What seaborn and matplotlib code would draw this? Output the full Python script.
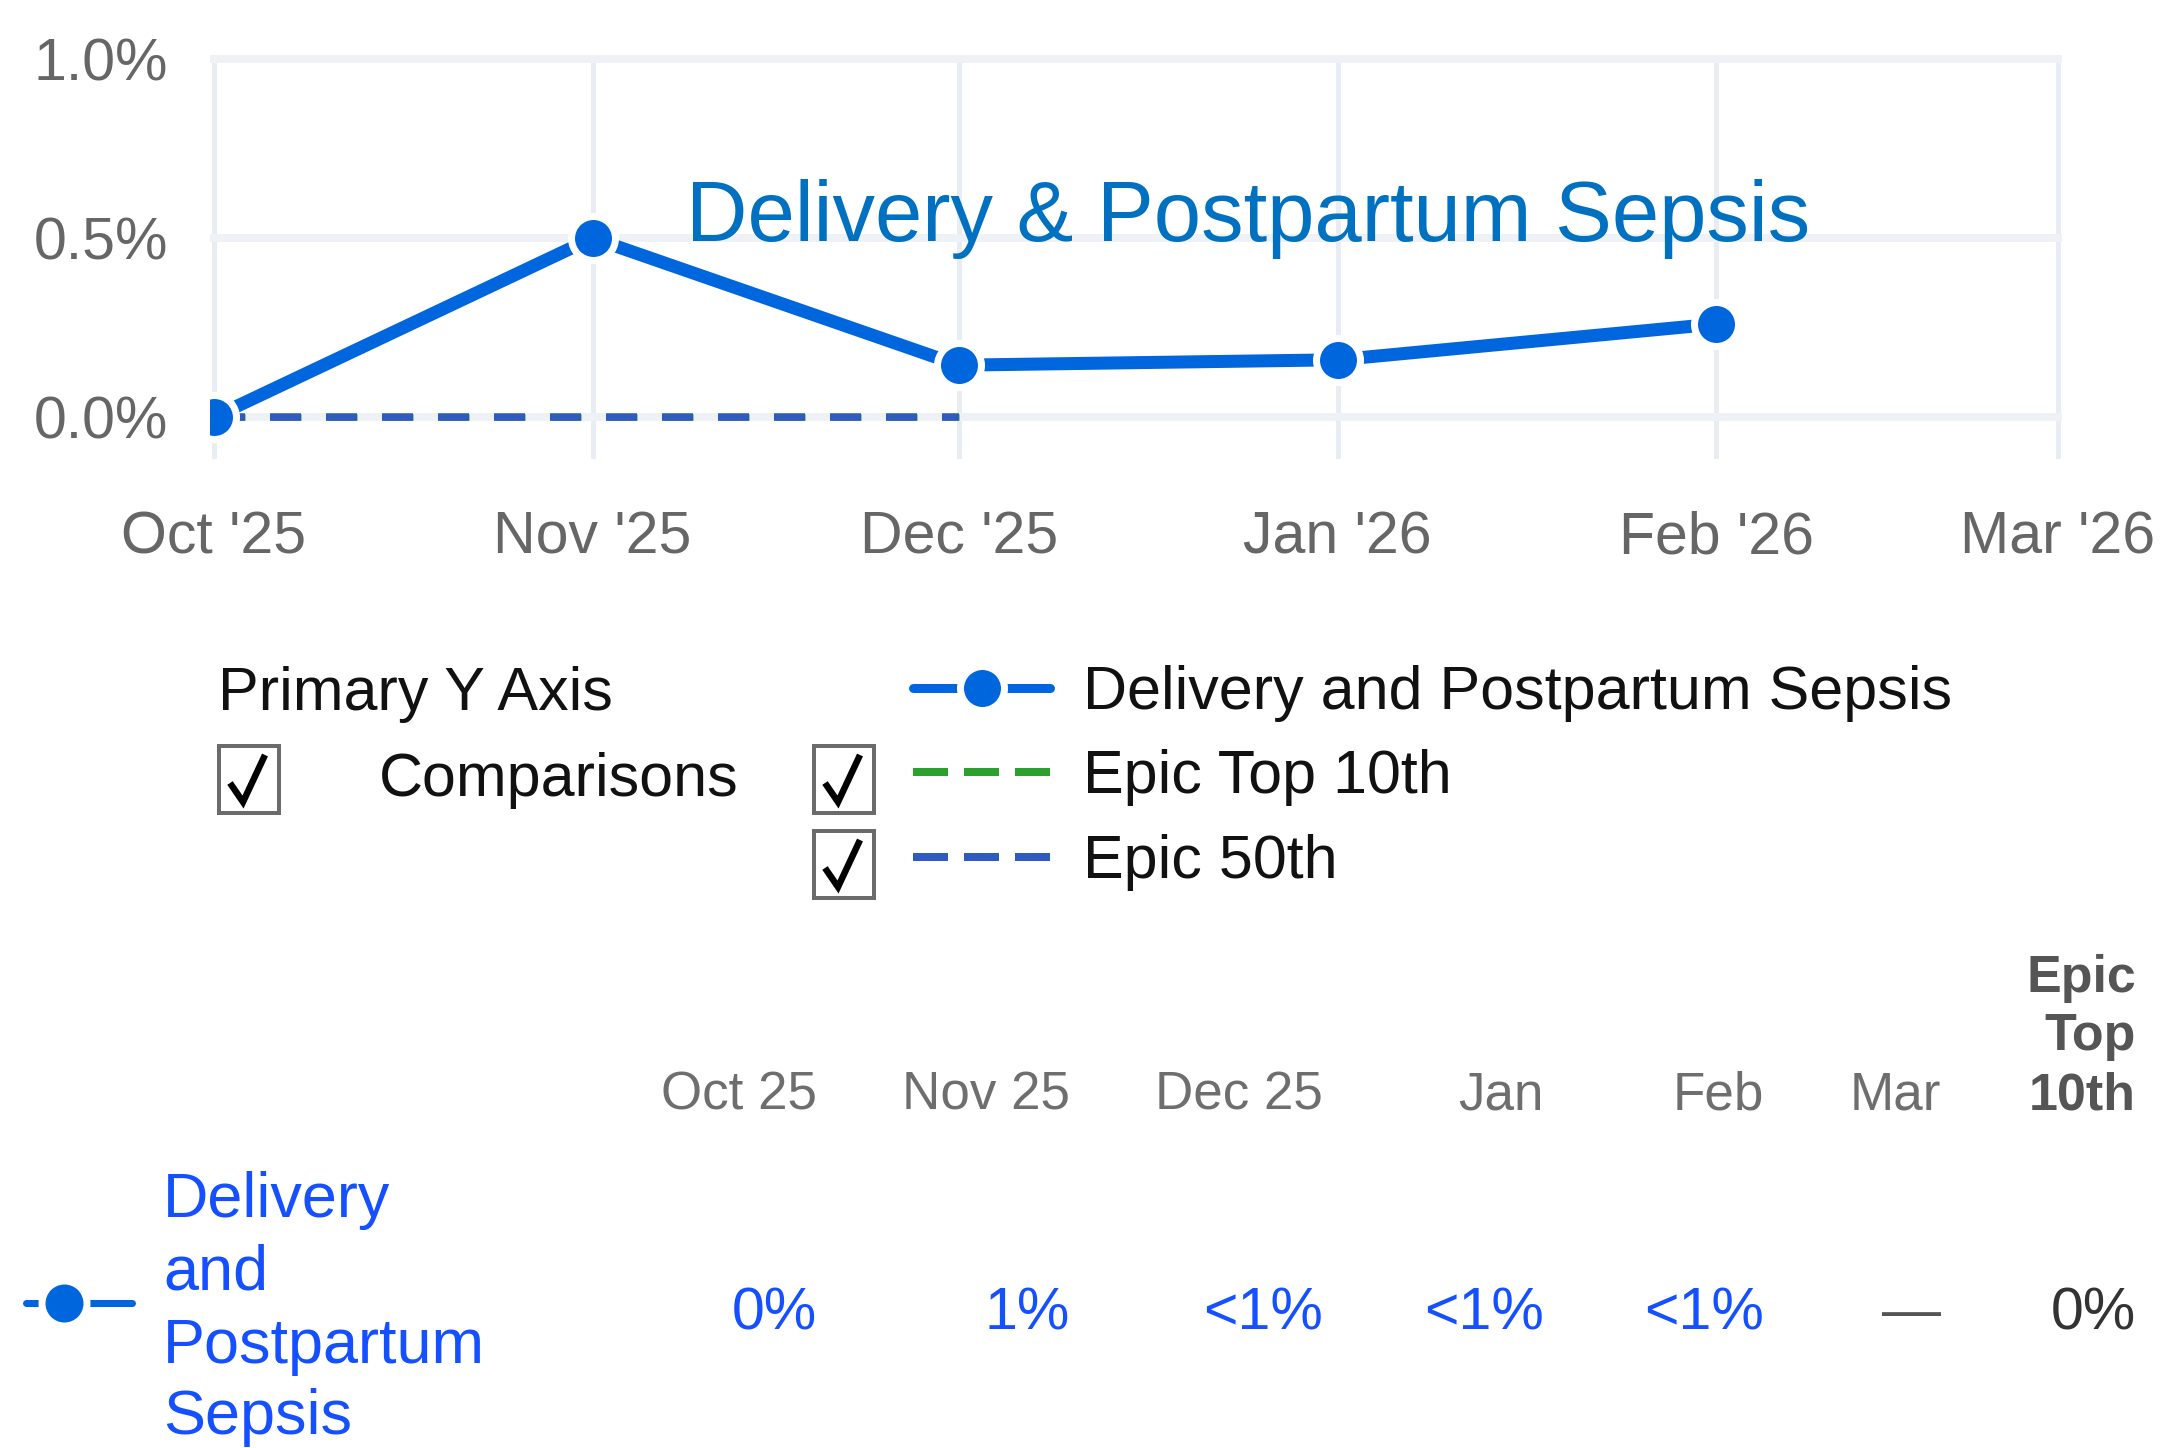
import matplotlib
matplotlib.use("Agg")
import matplotlib.pyplot as plt
from matplotlib.lines import Line2D
from matplotlib.patches import Rectangle
from matplotlib.transforms import Affine2D
import seaborn as sns
import pandas as pd

# --- data -------------------------------------------------------------
months = pd.to_datetime(["2025-10-01", "2025-11-01", "2025-12-01", "2026-01-01", "2026-02-01"])
sepsis_rate = [0.0, 0.50, 0.145, 0.16, 0.26]          # % of deliveries
epic_months = months[:3]
epic_50th = [0.0, 0.0, 0.0]
epic_top10 = [0.0, 0.0, 0.0]

tick_dates = pd.to_datetime(["2025-10-01", "2025-11-01", "2025-12-01",
                             "2026-01-01", "2026-02-01", "2026-03-01"])
tick_labels = ["Oct '25", "Nov '25", "Dec '25", "Jan '26", "Feb '26", "Mar '26"]
y_ticks = [0.0, 0.5, 1.0]
y_labels = ["0.0%", "0.5%", "1.0%"]

table_cols = ["Oct 25", "Nov 25", "Dec 25", "Jan", "Feb", "Mar"]
table_vals = ["0%", "1%", "<1%", "<1%", "<1%", "\u2014"]
top10_head = ["Epic", "Top", "10th"]
top10_val = "0%"

series_name = "Delivery and Postpartum Sepsis"
legend_names = [series_name, "Epic Top 10th", "Epic 50th"]

# --- style ------------------------------------------------------------
BLUE = "#0066dd"
GREEN = "#2ca02c"
DBLUE = "#2e5bbd"
TBLUE = "#1450ff"
LEG_FS = 61

sns.set_style("white")
plt.rcParams["font.family"] = ["Liberation Sans", "DejaVu Sans"]

W, H, DPI = 2163, 1448, 72
fig = plt.figure(figsize=(W / DPI, H / DPI), dpi=DPI)
# pixel coords of the reference (origin top-left)
px = Affine2D().scale(1 / W, -1 / H).translate(0, 1) + fig.transFigure

ax_l, ax_r, ax_t, ax_b = 209.7, 2062.3, 54.7, 459
ax = fig.add_axes([ax_l / W, 1 - ax_b / H, (ax_r - ax_l) / W, (ax_b - ax_t) / H])

sns.lineplot(x=epic_months, y=epic_top10, ax=ax, color=GREEN, linewidth=6.5,
             linestyle=(0, (31 / 6.5, 25 / 6.5)), errorbar=None, legend=False, zorder=2)
sns.lineplot(x=epic_months, y=epic_50th, ax=ax, color=DBLUE, linewidth=7.5,
             linestyle=(0, (31 / 7.5, 25 / 7.5)), errorbar=None, legend=False, zorder=3)
sns.lineplot(x=months, y=sepsis_rate, ax=ax, color=BLUE, linewidth=13,
             marker="o", markersize=44, markeredgecolor="white", markeredgewidth=7,
             errorbar=None, legend=False, zorder=4)

ax.set_xlim(tick_dates[0] - pd.Timedelta(hours=8.4), tick_dates[-1] + pd.Timedelta(hours=8.4))
ax.set_ylim(-0.117, 1.012)
ax.set_xticks(tick_dates)
ax.set_xticklabels(tick_labels)
ax.set_yticks(y_ticks)
ax.set_yticklabels(y_labels)
ax.set_xlabel("")
ax.set_ylabel("")
ax.tick_params(axis="both", length=0, labelsize=59, colors="#666666")
ax.tick_params(axis="x", pad=52)
ax.tick_params(axis="y", pad=41.7)
ax.grid(axis="y", color="#eef2f7", linewidth=8)
ax.grid(axis="x", color="#e8edf4", linewidth=5)
ax.set_axisbelow(True)
sns.despine(ax=ax, left=True, bottom=True)

fig.text(686, 241, "Delivery & Postpartum Sepsis", transform=px, fontsize=85,
         color="#0070c0", va="baseline", ha="left")

# --- legend block -----------------------------------------------------
fig.text(218, 710, "Primary Y Axis", transform=px, fontsize=LEG_FS,
         color="#111111", va="baseline")
fig.text(379, 796, "Comparisons", transform=px, fontsize=LEG_FS,
         color="#111111", va="baseline")

def checkbox(x0, y0):
    fig.add_artist(Rectangle((x0, y0), 60, 67, transform=px, facecolor="white",
                             edgecolor="#6b6b6b", linewidth=4))
    fig.add_artist(Line2D([x0 + 11, x0 + 24, x0 + 46], [y0 + 37, y0 + 56, y0 + 9],
                          transform=px, color="black", linewidth=6.5,
                          solid_joinstyle="miter", solid_capstyle="butt"))

checkbox(219, 746)
checkbox(814, 746)
checkbox(814, 831)

handles = [
    Line2D([], [], color=BLUE, linewidth=9, marker="o", markersize=44,
           markeredgecolor="white", markeredgewidth=7),
    Line2D([], [], color=GREEN, linewidth=8, dashes=(35 / 8, 16 / 8)),
    Line2D([], [], color=DBLUE, linewidth=8, dashes=(35 / 8, 16 / 8)),
]
fig.legend(handles, legend_names, loc="upper left", bbox_to_anchor=(913, 665),
           bbox_transform=px, frameon=False, borderpad=0, borderaxespad=0,
           handlelength=137 / LEG_FS, handletextpad=33 / LEG_FS, labelspacing=0.45,
           numpoints=1, prop={"size": LEG_FS}, labelcolor="#111111")

# --- table ------------------------------------------------------------
col_right = [817, 1070, 1323, 1544, 1764, 1941]
for c, txt in zip(col_right, table_cols):
    fig.text(c, 1109, txt, transform=px, fontsize=53, color="#6e6e6e",
             ha="right", va="baseline")
for c, txt in zip(col_right, table_vals):
    fig.text(c, 1329, txt, transform=px, fontsize=59,
             color="#555555" if txt == "\u2014" else TBLUE, ha="right", va="baseline")

for base, txt in zip([992, 1050, 1110], top10_head):
    fig.text(2136, base, txt, transform=px, fontsize=52, fontweight="bold",
             color="#555555", ha="right", va="baseline")
fig.text(2136, 1329, top10_val, transform=px, fontsize=59, color="#333333",
         ha="right", va="baseline")

for base, txt in zip([1217, 1290, 1363, 1434], ["Delivery", "and", "Postpartum", "Sepsis"]):
    fig.text(163, base, txt, transform=px, fontsize=63, color=TBLUE, ha="left", va="baseline")

fig.add_artist(Line2D([26, 132], [1303, 1303], transform=px, color=BLUE, linewidth=7))
fig.add_artist(Line2D([64], [1303], transform=px, color=BLUE, marker="o", markersize=45,
                      markeredgecolor="white", markeredgewidth=7, linestyle="none"))

fig.savefig("out.png", dpi=DPI, facecolor="white")
